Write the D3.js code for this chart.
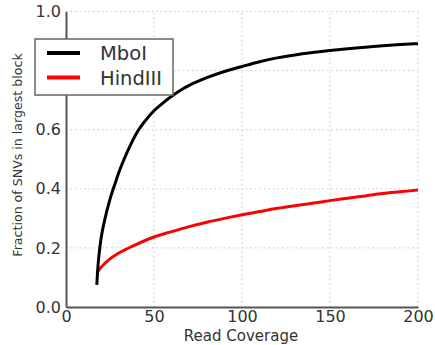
<!DOCTYPE html>
<html>
<head>
<meta charset="utf-8">
<script src="https://cdn.jsdelivr.net/npm/d3@7"></script>
<style>
  body { margin: 0; background: #fff; }
  svg { display: block; font-family: "DejaVu Sans", sans-serif; }
</style>
</head>
<body>
<svg width="435" height="345"></svg>
<script>
// coverage values
const coverage = [17.5, 18, 19, 20, 22, 25, 28, 30, 33, 36, 41, 45, 50, 55, 60, 66, 70, 80, 90, 100,
  110, 120, 130, 140, 150, 160, 170, 180, 190, 200];
const mboI = [0.075, 0.125, 0.19, 0.235, 0.295, 0.365, 0.42, 0.455, 0.50, 0.54, 0.597, 0.63, 0.664, 0.69, 0.713, 0.737, 0.75, 0.776, 0.797, 0.814,
  0.83, 0.843, 0.853, 0.861, 0.868, 0.874, 0.879, 0.884, 0.888, 0.891];

const coverageH = [17.5, 20, 25, 30, 35, 40, 50, 60, 70, 80, 90, 100, 110, 120, 130, 140, 150, 160, 170, 180, 190, 200];
const hindIII = [0.115, 0.135, 0.163, 0.183, 0.198, 0.212, 0.237, 0.255, 0.272, 0.287, 0.300, 0.312, 0.323, 0.334, 0.343, 0.351, 0.360, 0.368, 0.376, 0.384, 0.390, 0.396];

const xTicks = [0, 50, 100, 150, 200];
const yTicks = [0, 0.2, 0.4, 0.6, 0.8, 1.0];

const seriesNames = ['MboI', 'HindIII'];
const seriesColors = ['#000', '#f00'];

const svg = d3.select('svg');
const x = d3.scaleLinear().domain([0, 200]).range([66, 418]);
const y = d3.scaleLinear().domain([0, 1]).range([307, 11.5]);

// dotted grid
svg.append('g').selectAll('line').data(yTicks.slice(1)).enter().append('line')
  .attr('x1', x(0)).attr('x2', x(200))
  .attr('y1', d => y(d)).attr('y2', d => y(d))
  .attr('stroke', '#c8c8c8').attr('stroke-width', 1).attr('stroke-dasharray', '1.5,3');
svg.append('g').selectAll('line').data(xTicks.slice(1)).enter().append('line')
  .attr('x1', d => x(d)).attr('x2', d => x(d))
  .attr('y1', y(0)).attr('y2', y(1))
  .attr('stroke', '#c8c8c8').attr('stroke-width', 1).attr('stroke-dasharray', '1.5,3');

// axes
const xAxis = svg.append('g').attr('transform', `translate(0,${y(0)})`)
  .call(d3.axisBottom(x).tickValues(xTicks).tickSize(0).tickPadding(4).tickFormat(d3.format('d')));
const yAxis = svg.append('g').attr('transform', `translate(${x(0)},0)`)
  .call(d3.axisLeft(y).tickValues(yTicks).tickSize(0).tickPadding(5).tickFormat(d3.format('.1f')));
[xAxis, yAxis].forEach(a => {
  a.select('.domain').attr('stroke', '#555').attr('stroke-width', 2);
  a.selectAll('text').attr('font-size', 16).attr('fill', '#333').attr('font-family', '"DejaVu Sans", sans-serif');
});

svg.append('text').attr('x', 241).attr('y', 341).attr('text-anchor', 'middle')
  .attr('font-size', 15).attr('fill', '#333').text('Read Coverage');
svg.append('text').attr('transform', 'translate(22,155) rotate(-90)').attr('text-anchor', 'middle')
  .attr('font-size', 12.6).attr('fill', '#333').text('Fraction of SNVs in largest block');

// curves
const line = d3.line().x(d => x(d[0])).y(d => y(d[1])).curve(d3.curveMonotoneX);
svg.append('path').datum(coverageH.map((c, i) => [c, hindIII[i]]))
  .attr('d', line).attr('fill', 'none').attr('stroke', seriesColors[1]).attr('stroke-width', 3);
svg.append('path').datum(coverage.map((c, i) => [c, mboI[i]]))
  .attr('d', line).attr('fill', 'none').attr('stroke', seriesColors[0]).attr('stroke-width', 3);

// legend
const legend = svg.append('g');
legend.append('rect').attr('x', 35).attr('y', 39).attr('width', 138).attr('height', 56)
  .attr('fill', '#fff').attr('stroke', '#666').attr('stroke-width', 1.5);
seriesNames.forEach((name, i) => {
  const cy = 53 + i * 24.5;
  legend.append('line').attr('x1', 47).attr('x2', 80).attr('y1', cy).attr('y2', cy)
    .attr('stroke', seriesColors[i]).attr('stroke-width', 4);
  legend.append('text').attr('x', 100).attr('y', cy + 7).attr('font-size', 19.5)
    .attr('fill', '#333').text(name);
});
</script>
</body>
</html>
